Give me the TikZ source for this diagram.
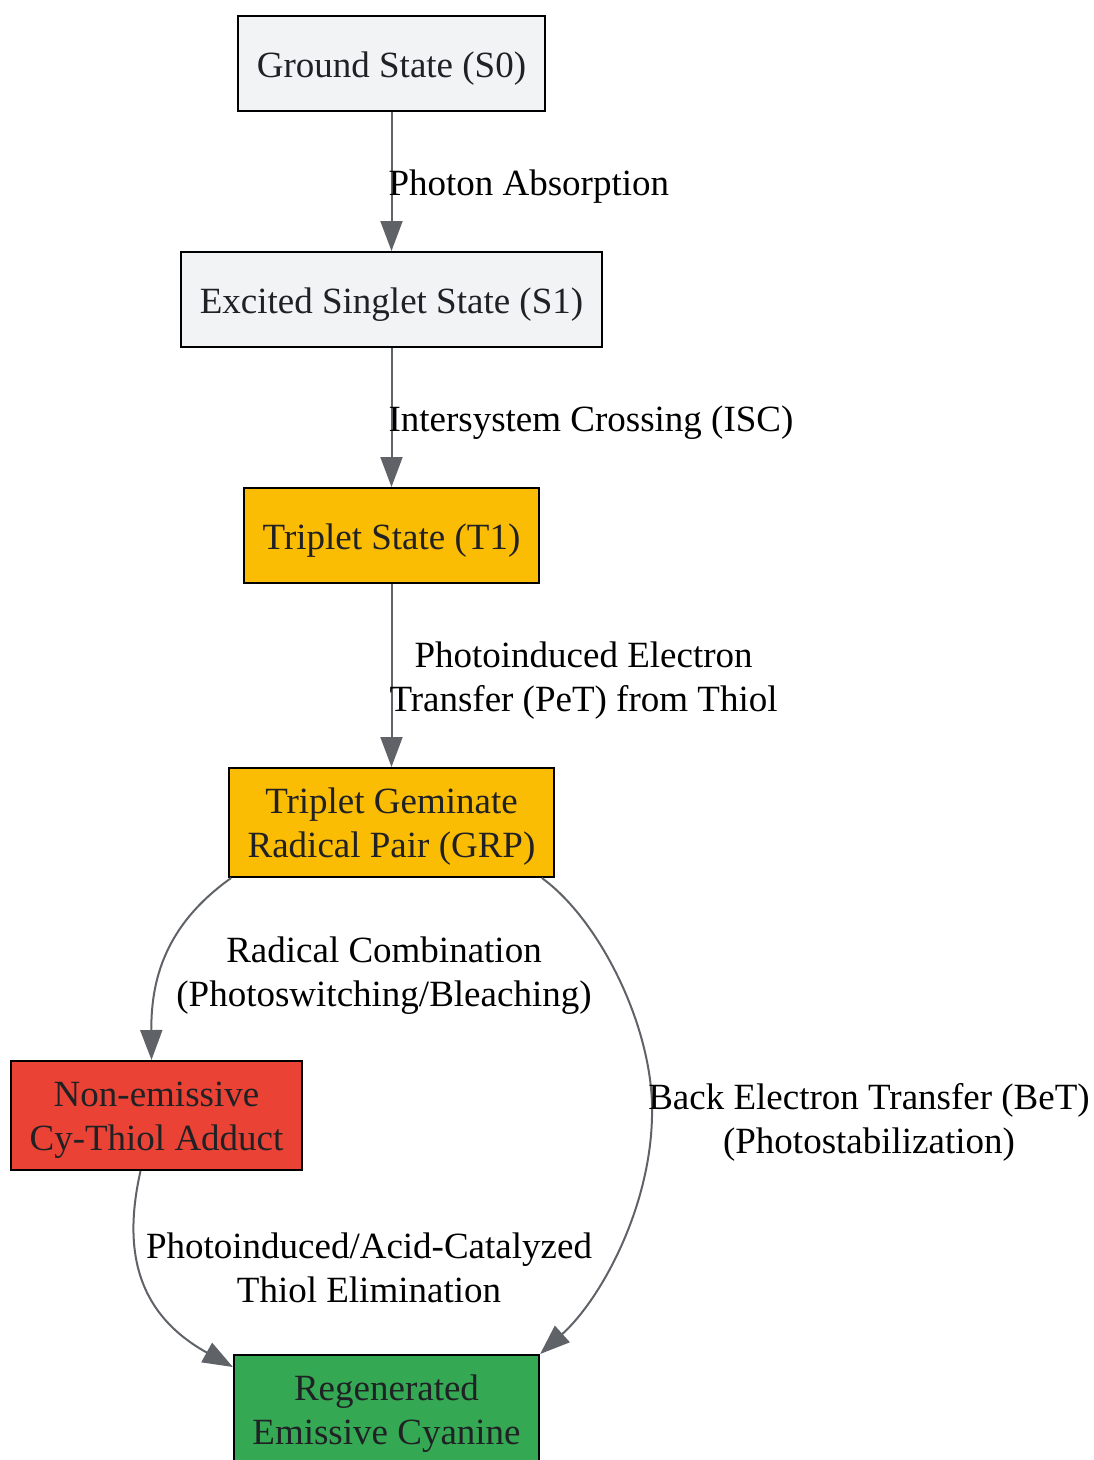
\documentclass[tikz,border=0pt]{standalone}
\usepackage{fontspec}
\setmainfont{Liberation Serif}
\usetikzlibrary{arrows.meta}
\definecolor{stategray}{HTML}{F1F3F4}
\definecolor{stateyellow}{HTML}{FBBC04}
\definecolor{statered}{HTML}{EA4335}
\definecolor{stategreen}{HTML}{34A853}
\definecolor{edgegray}{HTML}{5F6368}
\definecolor{nodetext}{HTML}{202124}

\begin{document}
\begin{tikzpicture}[x=1pt,y=-1pt,>/.tip={Triangle[length=30pt,width=22pt]},
	statebox/.style={draw=black,line width=2pt,text=nodetext,align=center,inner xsep=18.5pt,minimum height=95pt,text height=33pt,text depth=6pt,font=\fontsize{37}{44}\selectfont},
	twoline/.style={minimum height=109pt,text height=75pt},
	edgelabel/.style={align=center,inner sep=0pt,text=black,yshift=-5pt,font=\fontsize{37}{44}\selectfont},
	flow/.style={->,draw=edgegray,line width=2pt}]
	\useasboundingbox (0,0) rectangle (1094,1460);
	\draw (391.5,63.5) node (S0) [statebox,fill=stategray] {Ground State (S0)};
	\draw (391.5,299.5) node (S1) [statebox,fill=stategray] {Excited Singlet State (S1)};
	\draw (391.5,535.5) node (T1) [statebox,fill=stateyellow] {Triplet State (T1)};
	\draw (391.5,822.5) node (GRP) [statebox,twoline,fill=stateyellow] {Triplet Geminate\\Radical Pair (GRP)};
	\draw (156.5,1115.5) node (Adduct) [statebox,twoline,fill=statered] {Non-emissive\\Cy-Thiol Adduct};
	\draw (386.5,1409.5) node (Cyanine) [statebox,twoline,fill=stategreen] {Regenerated\\Emissive Cyanine};
	\draw[flow] (S0) -- node [edgelabel,right,xshift=-4pt] {Photon Absorption} (S1);
	\draw[flow] (S1) -- node [edgelabel,right,xshift=-4pt] {Intersystem Crossing (ISC)} (T1);
	\draw[flow] (T1) -- node [edgelabel,right,xshift=-3pt] {Photoinduced Electron\\Transfer (PeT) from Thiol} (GRP);
	\draw[flow] ([xshift=3pt]GRP.south west) .. controls (165,925) and (151,980) .. ([xshift=-5pt]Adduct.north);
	\draw[flow] ([xshift=-13pt]GRP.south east) .. controls (600,920) and (655,1030) .. (652,1117) .. controls (650,1210) and (600,1300) .. (Cyanine.north east);
	\draw[flow] ([xshift=-16pt]Adduct.south) .. controls (125,1240) and (130,1310) .. ([yshift=-13pt]Cyanine.north west);
	\node (lblRC) [edgelabel] at (384,971) {Radical Combination\\(Photoswitching/Bleaching)};
	\node (lblBeT) [edgelabel] at (869,1117) {Back Electron Transfer (BeT)\\(Photostabilization)};
	\node (lblTE) [edgelabel] at (369,1263) {Photoinduced/Acid-Catalyzed\\Thiol Elimination};
\end{tikzpicture}
\end{document}
